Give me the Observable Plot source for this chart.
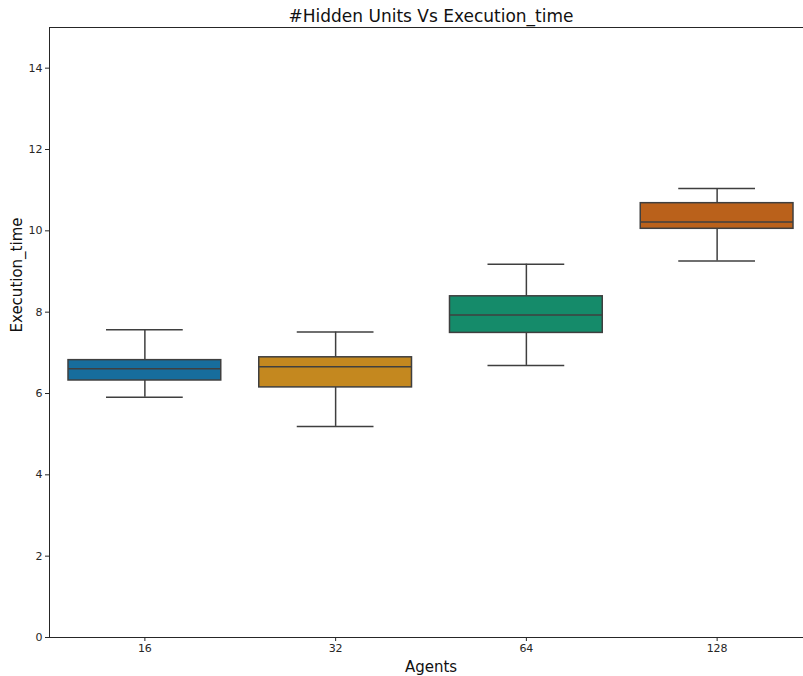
<!DOCTYPE html>
<html>
<head>
<meta charset="utf-8">
<script src="https://cdn.jsdelivr.net/npm/d3@7"></script>
<script src="https://cdn.jsdelivr.net/npm/@observablehq/plot@0.6"></script>
<style>
  html, body { margin: 0; padding: 0; background: #fff; }
  #chart svg { display: block; font-family: "DejaVu Sans", sans-serif; }
</style>
</head>
<body>
<div id="chart"></div>
<script>
const categories = ["16", "32", "64", "128"];
const whiskerLow = [5.91, 5.19, 6.69, 9.26];
const q1 = [6.32, 6.15, 7.49, 10.05];
const median = [6.61, 6.66, 7.93, 10.22];
const q3 = [6.82, 6.89, 8.39, 10.68];
const whiskerHigh = [7.57, 7.51, 9.18, 11.04];
const palette = ["#176d9c", "#c4881f", "#158b6a", "#ba611b"];
const yTicks = [0, 2, 4, 6, 8, 10, 12, 14];

const rows = categories.map((c, i) => ({
  agents: c, low: whiskerLow[i], q1: q1[i], median: median[i], q3: q3[i], high: whiskerHigh[i]
}));

const edge = "#3f3f3f";
const ink = "#262626";

const chart = Plot.plot({
  width: 803,
  height: 676,
  marginTop: 27,
  marginLeft: 49,
  marginBottom: 39,
  marginRight: -9,
  style: { fontFamily: "DejaVu Sans, sans-serif", color: ink, background: "#fff" },
  x: { type: "band", domain: categories, padding: 0, round: false },
  y: { domain: [0, 15] },
  color: { domain: categories, range: palette },
  marks: [
    Plot.axisY({ ticks: yTicks, tickSize: 4, tickPadding: 3, fontSize: 11, label: null, stroke: ink }),
    Plot.axisX({ tickSize: 4, tickPadding: 3, fontSize: 11, label: null, stroke: ink }),
    Plot.ruleX(rows, { x: "agents", y1: "low", y2: "q1", stroke: edge, strokeWidth: 1.5 }),
    Plot.ruleX(rows, { x: "agents", y1: "q3", y2: "high", stroke: edge, strokeWidth: 1.5 }),
    Plot.barY(rows, { x: "agents", y1: "q1", y2: "q3", fill: "agents", stroke: edge, strokeWidth: 1.5, insetLeft: 19, insetRight: 19 }),
    Plot.tickY(rows, { x: "agents", y: "median", stroke: edge, strokeWidth: 1.5, insetLeft: 19, insetRight: 19 }),
    Plot.tickY(rows, { x: "agents", y: "low", stroke: edge, strokeWidth: 1.5, insetLeft: 57, insetRight: 57 }),
    Plot.tickY(rows, { x: "agents", y: "high", stroke: edge, strokeWidth: 1.5, insetLeft: 57, insetRight: 57 }),
    Plot.frame({ stroke: ink, strokeWidth: 1 }),
    Plot.text(["#Hidden Units Vs Execution_time"], { frameAnchor: "top", lineAnchor: "bottom", dy: -6, fontSize: 17, fill: "#111" }),
    Plot.text(["Agents"], { frameAnchor: "bottom", lineAnchor: "bottom", dy: 34, fontSize: 15, fill: "#111" }),
    Plot.text(["Execution_time"], { frameAnchor: "left", lineAnchor: "bottom", rotate: -90, dx: -28, fontSize: 15, fill: "#111" })
  ]
});
document.getElementById("chart").appendChild(chart);
</script>
</body>
</html>
